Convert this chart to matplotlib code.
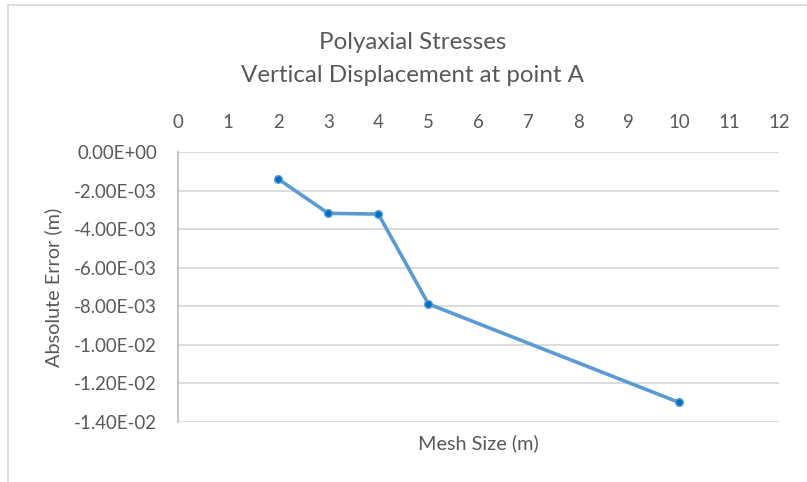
import matplotlib as mpl
mpl.use('Agg')
import matplotlib.pyplot as plt
from matplotlib.ticker import FuncFormatter

plt.rcParams['font.family'] = ['Lato', 'DejaVu Sans']

mesh_size = [2, 3, 4, 5, 10]
abs_error = [-0.00140, -0.00318, -0.00322, -0.00788, -0.01298]
x_ticks = list(range(0, 13))
y_ticks = [0, -0.002, -0.004, -0.006, -0.008, -0.010, -0.012, -0.014]

text_grey = '#595959'
grid_grey = '#D9D9D9'

fig = plt.figure(figsize=(8.07, 4.82), dpi=100)
ax = fig.add_axes([178/807, 1-422/482, (779-178)/807, (422-152)/482])

ax.plot(mesh_size, abs_error, color='#5B9BD5', lw=2.6, marker='o', ms=5.5,
        mfc='#0070C0', mec='#5B9BD5', mew=1, zorder=3, solid_capstyle='round')

ax.set_xlim(0, 12)
ax.set_ylim(-0.014, 0)
ax.set_xticks(x_ticks)
ax.set_yticks(y_ticks)
ax.yaxis.set_major_formatter(FuncFormatter(lambda v, p: f"{v:.2E}".replace('-0.00E+00', '0.00E+00')))

ax.xaxis.tick_top()
ax.tick_params(axis='x', length=0, pad=15, labelsize=13.4, labelcolor=text_grey)
ax.tick_params(axis='y', length=0, pad=15, labelsize=13.4, labelcolor=text_grey)

ax.grid(axis='y', color=grid_grey, lw=1.3)
ax.set_axisbelow(True)
for side in ['top', 'right', 'bottom']:
    ax.spines[side].set_visible(False)
ax.spines['left'].set_color('#BFBFBF')
ax.spines['left'].set_linewidth(1.3)

ax.set_ylabel('Absolute Error (m)', fontsize=14.3, color=text_grey, labelpad=9)
ax.set_xlabel('Mesh Size (m)', fontsize=14.3, color=text_grey, labelpad=9)

fig.text(413/807, 1-49/482, 'Polyaxial Stresses', ha='center', va='baseline',
         fontsize=17.4, color=text_grey)
fig.text(413/807, 1-82/482, 'Vertical Displacement at point A', ha='center',
         va='baseline', fontsize=17.4, color=text_grey)

# chart area border (left and top edges visible)
fig.add_artist(plt.Line2D([8/807, 8/807], [0, 1-5/482], transform=fig.transFigure,
                          color='#D9D9D9', lw=1.2))
fig.add_artist(plt.Line2D([8/807, 1], [1-5/482, 1-5/482], transform=fig.transFigure,
                          color='#D9D9D9', lw=1.2))

fig.savefig('out.png', dpi=100)
